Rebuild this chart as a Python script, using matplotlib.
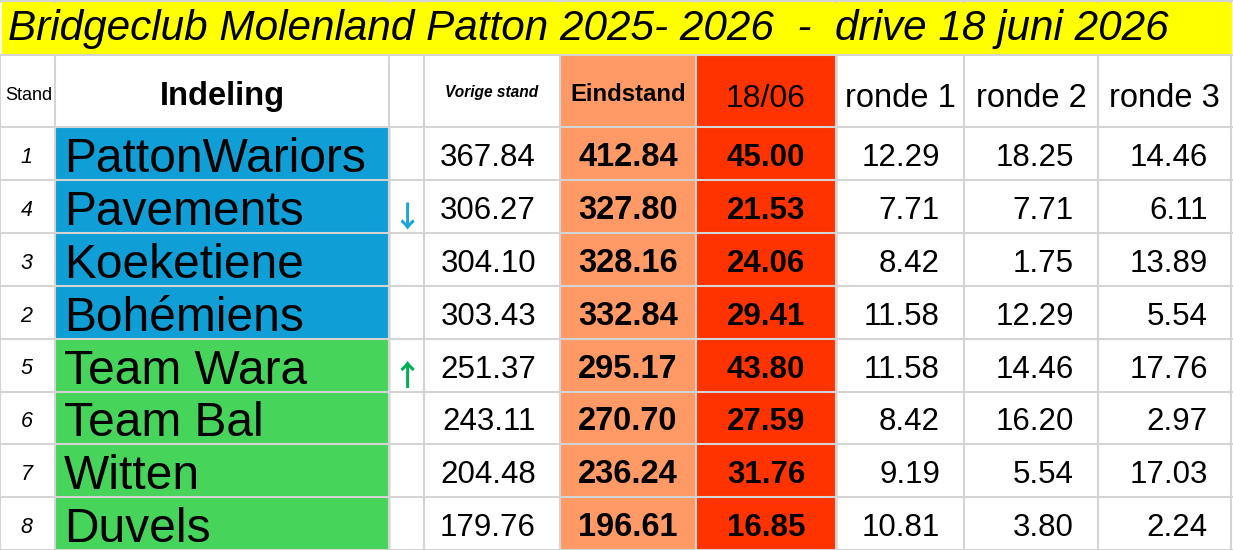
import matplotlib
matplotlib.use('Agg')
import matplotlib.pyplot as plt
from matplotlib.patches import Rectangle

# table content
title = 'Bridgeclub Molenland Patton 2025- 2026  -  drive 18 juni 2026'
headers = ['Stand', 'Indeling', '', 'Vorige stand', 'Eindstand', '18/06', 'ronde 1', 'ronde 2', 'ronde 3']
stand = ['1', '4', '3', '2', '5', '6', '7', '8']
teams = ['PattonWariors', 'Pavements', 'Koeketiene', 'Bohémiens',
         'Team Wara', 'Team Bal', 'Witten', 'Duvels']
arrows = ['', '↓', '', '', '↑', '', '', '']
vorige = [367.84, 306.27, 304.10, 303.43, 251.37, 243.11, 204.48, 179.76]
eindstand = [412.84, 327.80, 328.16, 332.84, 295.17, 270.70, 236.24, 196.61]
drive = [45.00, 21.53, 24.06, 29.41, 43.80, 27.59, 31.76, 16.85]
ronde1 = [12.29, 7.71, 8.42, 11.58, 11.58, 8.42, 9.19, 10.81]
ronde2 = [18.25, 7.71, 1.75, 12.29, 14.46, 16.20, 5.54, 3.80]
ronde3 = [14.46, 6.11, 13.89, 5.54, 17.76, 2.97, 17.03, 2.24]
group = ['blue'] * 4 + ['green'] * 4

# layout (pixels)
W, H = 1233, 550
col_x = [0, 55, 389, 424, 560, 696, 836, 964, 1098, 1231]
row_y = [55, 127] + [127 + 52.9 * (i + 1) for i in range(8)]

cell_colors = {'blue': '#0F9ED5', 'green': '#47D45A'}
c_eind = '#FF9966'
c_drive = '#FF3300'
c_grid = '#D4D4D4'
c_arrow = {'↓': '#1AA5DA', '↑': '#00B050'}

FONT = 'Liberation Sans'

fig = plt.figure(figsize=(W / 100, H / 100), dpi=100)
ax = fig.add_axes([0, 0, 1, 1])
ax.set_xlim(0, W)
ax.set_ylim(H, 0)
ax.axis('off')

# backgrounds
ax.add_patch(Rectangle((2, 2), 1229, 52, color='#FFFF00', zorder=1))
ax.add_patch(Rectangle((col_x[4], row_y[0]), col_x[5] - col_x[4], H - row_y[0],
                       color=c_eind, zorder=1))
ax.add_patch(Rectangle((col_x[5], row_y[0]), col_x[6] - col_x[5], H - row_y[0],
                       color=c_drive, zorder=1))
for i, g in enumerate(group):
    ax.add_patch(Rectangle((col_x[1], row_y[i + 1]), col_x[2] - col_x[1],
                           row_y[i + 2] - row_y[i + 1], color=cell_colors[g], zorder=1))

# grid
for x in col_x:
    ax.plot([x, x], [0, 2], color=c_grid, lw=1.5, zorder=2)
    ax.plot([x, x], [row_y[0], H], color=c_grid, lw=1.5, zorder=2)
for y in row_y:
    ax.plot([0, W], [y, y], color=c_grid, lw=1.5, zorder=2)
ax.plot([0, W], [1, 1], color=c_grid, lw=1.5, zorder=2)
ax.plot([0, W], [H - 0.5, H - 0.5], color=c_grid, lw=1, zorder=2)

# title
ax.text(8, 40, title, fontsize=30.4, style='italic', family=FONT, va='baseline', ha='left', zorder=3)

# header row
def cx(c):
    return 0.5 * (col_x[c] + col_x[c + 1])

hdr_style = [
    dict(size=13, weight='normal', style='normal', base=100),
    dict(size=23.5, weight='bold', style='normal', base=105),
    dict(size=12, weight='normal', style='normal', base=100),
    dict(size=11.2, weight='bold', style='italic', base=97),
    dict(size=17.2, weight='bold', style='normal', base=101),
    dict(size=23, weight='normal', style='normal', base=107),
    dict(size=23.5, weight='normal', style='normal', base=107),
    dict(size=23.5, weight='normal', style='normal', base=107),
    dict(size=23.5, weight='normal', style='normal', base=107),
]
for c, (h, s) in enumerate(zip(headers, hdr_style)):
    if not h:
        continue
    ax.text(cx(c) + (1 if c == 0 else 0), s['base'], h, fontsize=s['size'], fontweight=s['weight'],
            style=s['style'], family=FONT, ha='center', va='baseline', zorder=3)

# body rows
for i in range(8):
    bottom = row_y[i + 2]
    ax.text(cx(0) - 1, bottom - 17, stand[i], fontsize=15.5, style='italic', family=FONT,
            ha='center', va='baseline', zorder=3)
    ax.text(col_x[1] + 9, bottom - 8, teams[i], fontsize=34.5, family=FONT,
            ha='left', va='baseline', zorder=3)
    if arrows[i]:
        ax.text(cx(2), bottom - 6, arrows[i], fontsize=21, color=c_arrow[arrows[i]],
                fontweight='bold', family=['Noto Sans CJK SC', 'DejaVu Sans'],
                ha='center', va='baseline', zorder=3)
    ax.text(536, bottom - 14, f'{vorige[i]:.2f}', fontsize=22.5, family=FONT,
            ha='right', va='baseline', zorder=3)
    ax.text(cx(4), bottom - 14, f'{eindstand[i]:.2f}', fontsize=23.5, fontweight='bold',
            family=FONT, ha='center', va='baseline', zorder=3)
    ax.text(cx(5), bottom - 14, f'{drive[i]:.2f}', fontsize=22.5, fontweight='bold',
            family=FONT, ha='center', va='baseline', zorder=3)
    for val, xr in zip([ronde1[i], ronde2[i], ronde3[i]], [940, 1074, 1208]):
        ax.text(xr, bottom - 14, f'{val:.2f}', fontsize=22.5, family=FONT,
                ha='right', va='baseline', zorder=3)

fig.savefig('out.png', dpi=100, facecolor='white')
